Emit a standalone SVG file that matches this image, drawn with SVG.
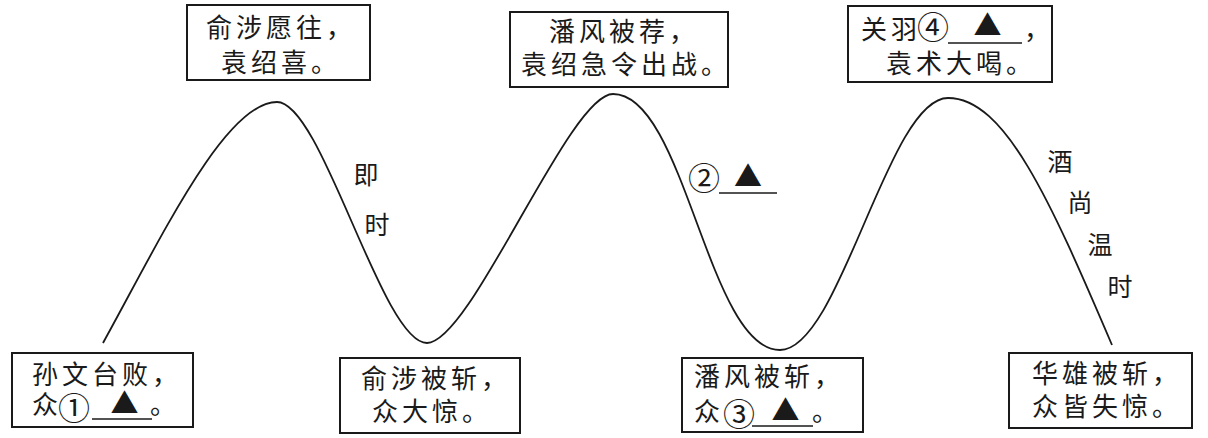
<svg xmlns="http://www.w3.org/2000/svg" width="1208" height="438" viewBox="0 0 1208 438">
<style>
.box{fill:#fff;stroke:#1a1a1a;stroke-width:2}
.t{font-family:"Noto Sans CJK SC","Noto Sans",sans-serif;font-size:26px;letter-spacing:4px;fill:#1a1a1a}
.v{font-family:"Noto Sans CJK SC","Noto Sans",sans-serif;font-size:25px;fill:#1a1a1a;text-anchor:middle}
.c{font-family:"Noto Sans CJK SC","Noto Sans",sans-serif;font-size:32px;fill:#1a1a1a;text-anchor:middle}
.tri{font-family:"Noto Sans CJK SC","Noto Sans",sans-serif;font-size:28px;fill:#1a1a1a;text-anchor:middle}
.ul{stroke:#1a1a1a;stroke-width:1.5}
.curve{fill:none;stroke:#1a1a1a;stroke-width:1.8}
</style>
<rect width="1208" height="438" fill="#fff"/>
<g id="connectors">
<path class="curve" d="M103,343 C160,240 225,102 277,102 C322,102 382,343 427,343 C471,343 569,94 613,94 C685,94 708,350 780,350 C840,350 888,98 948,98 C1005,98 1050,200 1112,345"/>
</g>
<g id="label-jishi">
<text class="v" x="366" y="184">即</text>
<text class="v" x="377" y="234">时</text>
</g>
<g id="label-2">
<text class="c" x="704" y="190">②</text>
<text class="tri" x="748" y="187">▲</text>
<line class="ul" x1="719" y1="193" x2="777" y2="193"/>
</g>
<g id="label-jiu">
<text class="v" x="1060" y="171">酒</text>
<text class="v" x="1080" y="212">尚</text>
<text class="v" x="1100" y="254">温</text>
<text class="v" x="1120" y="296">时</text>
</g>
<g id="node-b1">
<rect class="box" x="12" y="353" width="181" height="74"/>
<text class="t" x="32" y="384">孙文台败，</text>
<text class="t" x="32" y="414">众</text>
<text class="c" x="74" y="420">①</text>
<line class="ul" x1="92" y1="419" x2="152" y2="419"/>
<text class="tri" x="124.5" y="414">▲</text>
<text class="t" x="150" y="414">。</text>
</g>
<g id="node-t1">
<rect class="box" x="187" y="5" width="183" height="75"/>
<text class="t" x="206" y="37">俞涉愿往，</text>
<text class="t" x="221" y="72">袁绍喜。</text>
</g>
<g id="node-b2">
<rect class="box" x="340" y="358" width="180" height="75"/>
<text class="t" x="361" y="388">俞涉被斩，</text>
<text class="t" x="372" y="421">众大惊。</text>
</g>
<g id="node-t2">
<rect class="box" x="510" y="12" width="218" height="75"/>
<text class="t" x="549" y="41">潘风被荐，</text>
<text class="t" x="521" y="74">袁绍急令出战。</text>
</g>
<g id="node-b3">
<rect class="box" x="682" y="358" width="181" height="74"/>
<text class="t" x="694" y="386">潘风被斩，</text>
<text class="t" x="694" y="421">众</text>
<text class="c" x="739" y="426">③</text>
<line class="ul" x1="752" y1="426" x2="813" y2="426"/>
<text class="tri" x="785.5" y="421">▲</text>
<text class="t" x="812" y="421">。</text>
</g>
<g id="node-t3">
<rect class="box" x="848" y="6" width="204" height="76"/>
<text class="t" x="861" y="39">关羽</text>
<text class="c" x="933" y="39">④</text>
<line class="ul" x1="948" y1="43" x2="1022" y2="43"/>
<text class="tri" x="987.5" y="36">▲</text>
<text class="t" x="1024" y="39">，</text>
<text class="t" x="886" y="73">袁术大喝。</text>
</g>
<g id="node-b4">
<rect class="box" x="1009" y="353" width="183" height="75"/>
<text class="t" x="1032" y="383">华雄被斩，</text>
<text class="t" x="1032" y="416">众皆失惊。</text>
</g>
</svg>
